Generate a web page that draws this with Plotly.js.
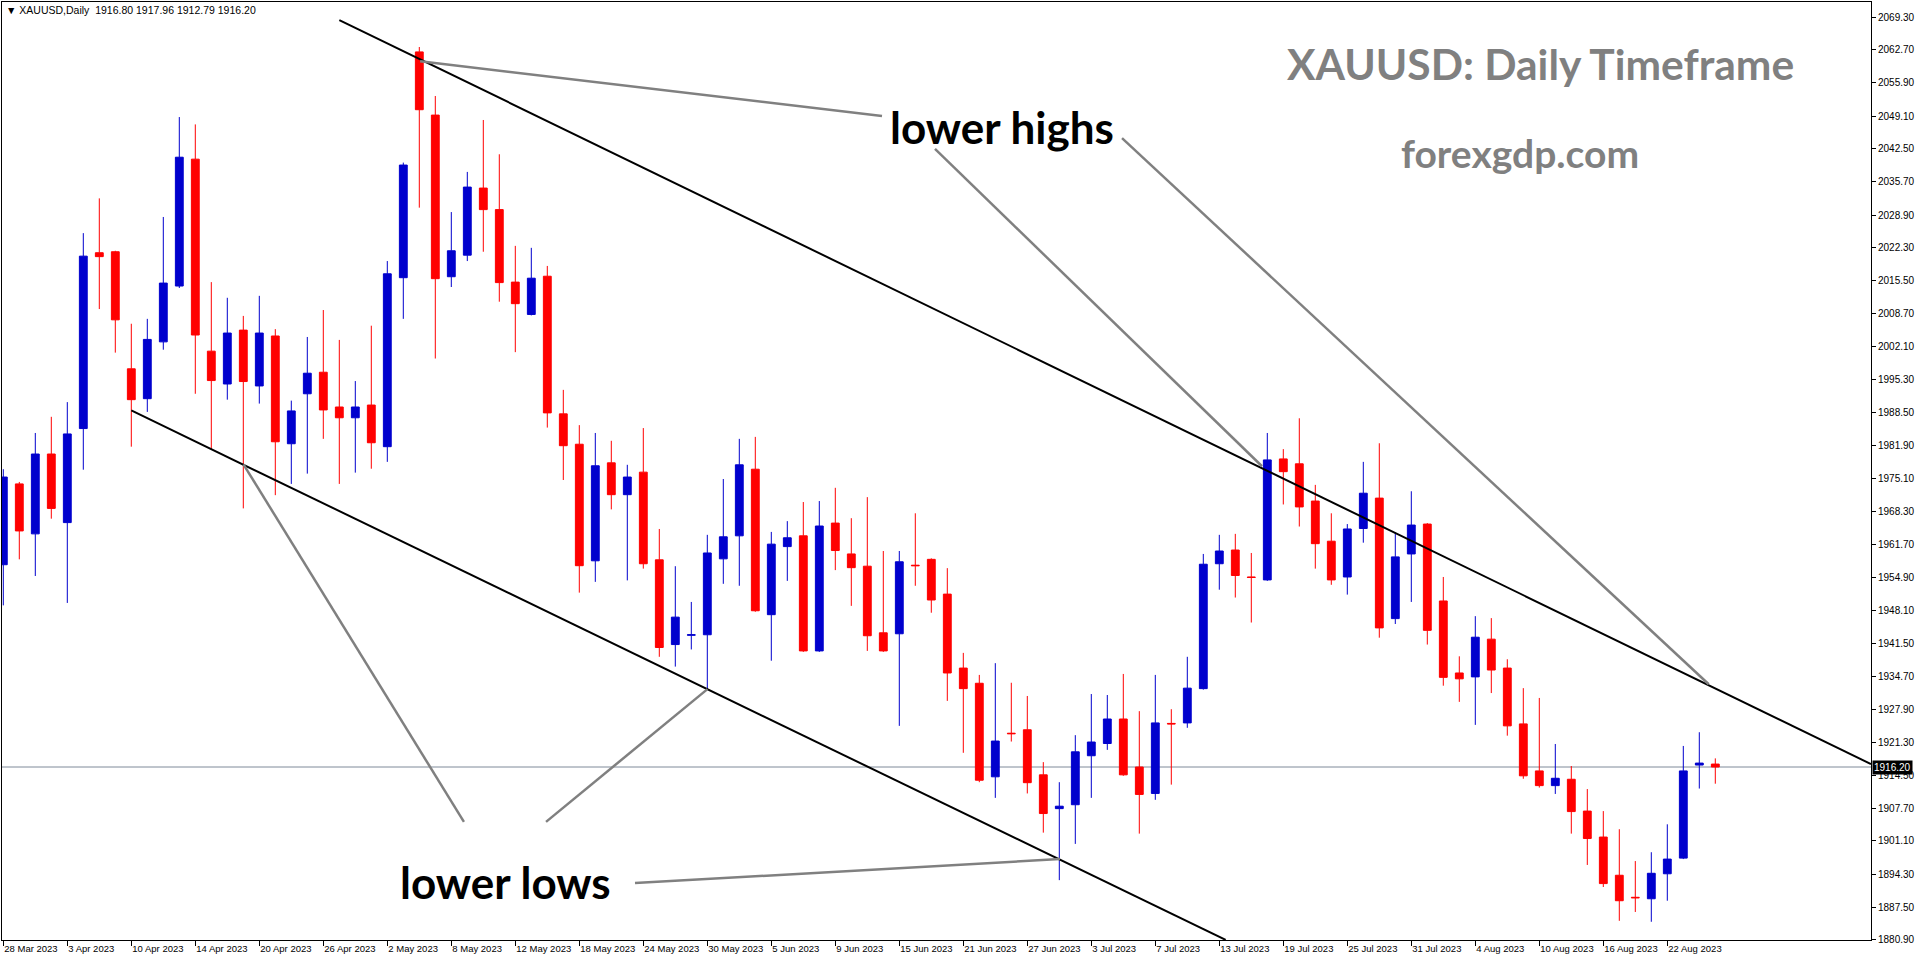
<!DOCTYPE html>
<html>
<head>
<meta charset="utf-8">
<script src="https://cdn.plot.ly/plotly-3.0.1.min.js"></script>
<style>
  html, body { margin: 0; padding: 0; background: #ffffff; }
  #chart { width: 1916px; height: 964px; }
</style>
</head>
<body>
<div id="chart"></div>
<script>
// ---------------- DATA ----------------
const dates = [
  "28 Mar 2023","29 Mar 2023","30 Mar 2023","31 Mar 2023",
  "3 Apr 2023","4 Apr 2023","5 Apr 2023","6 Apr 2023",
  "10 Apr 2023","11 Apr 2023","12 Apr 2023","13 Apr 2023",
  "14 Apr 2023","17 Apr 2023","18 Apr 2023","19 Apr 2023",
  "20 Apr 2023","21 Apr 2023","24 Apr 2023","25 Apr 2023",
  "26 Apr 2023","27 Apr 2023","28 Apr 2023","1 May 2023",
  "2 May 2023","3 May 2023","4 May 2023","5 May 2023",
  "8 May 2023","9 May 2023","10 May 2023","11 May 2023",
  "12 May 2023","15 May 2023","16 May 2023","17 May 2023",
  "18 May 2023","19 May 2023","22 May 2023","23 May 2023",
  "24 May 2023","25 May 2023","26 May 2023","29 May 2023",
  "30 May 2023","31 May 2023","1 Jun 2023","2 Jun 2023",
  "5 Jun 2023","6 Jun 2023","7 Jun 2023","8 Jun 2023",
  "9 Jun 2023","12 Jun 2023","13 Jun 2023","14 Jun 2023",
  "15 Jun 2023","16 Jun 2023","19 Jun 2023","20 Jun 2023",
  "21 Jun 2023","22 Jun 2023","23 Jun 2023","26 Jun 2023",
  "27 Jun 2023","28 Jun 2023","29 Jun 2023","30 Jun 2023",
  "3 Jul 2023","4 Jul 2023","5 Jul 2023","6 Jul 2023",
  "7 Jul 2023","10 Jul 2023","11 Jul 2023","12 Jul 2023",
  "13 Jul 2023","14 Jul 2023","17 Jul 2023","18 Jul 2023",
  "19 Jul 2023","20 Jul 2023","21 Jul 2023","24 Jul 2023",
  "25 Jul 2023","26 Jul 2023","27 Jul 2023","28 Jul 2023",
  "31 Jul 2023","1 Aug 2023","2 Aug 2023","3 Aug 2023",
  "4 Aug 2023","7 Aug 2023","8 Aug 2023","9 Aug 2023",
  "10 Aug 2023","11 Aug 2023","14 Aug 2023","15 Aug 2023",
  "16 Aug 2023","17 Aug 2023","18 Aug 2023","21 Aug 2023",
  "22 Aug 2023","23 Aug 2023","24 Aug 2023","25 Aug 2023"
];

const openP = [
  1957.5,1974.0,1963.8,1980.1,1966.1,1985.3,2021.2,2021.4,1997.5,1991.4,
  2003.0,2014.4,2040.3,2001.1,1994.4,2005.4,1994.0,2004.2,1982.2,1992.4,
  1996.8,1989.7,1987.5,1990.1,1981.6,2016.1,2062.2,2049.3,2016.3,2020.7,
  2034.4,2030.0,2015.2,2008.6,2016.4,1988.3,1982.1,1958.3,1978.3,1971.8,
  1976.4,1958.5,1941.2,1943.1,1943.2,1958.7,1963.4,1977.0,1947.3,1961.2,
  1963.4,1939.9,1966.0,1959.7,1957.2,1943.6,1943.4,1957.4,1958.6,1951.5,
  1936.4,1933.3,1914.2,1923.1,1923.8,1914.6,1907.7,1908.5,1918.5,1921.0,
  1926.0,1916.2,1910.8,1925.1,1925.2,1932.2,1957.7,1960.5,1955.0,1954.4,
  1979.1,1978.1,1970.5,1962.3,1955.0,1964.9,1971.1,1946.5,1959.7,1965.8,
  1950.1,1935.4,1934.6,1942.3,1936.4,1925.0,1915.4,1912.4,1913.7,1907.2,
  1901.9,1894.1,1889.6,1889.3,1894.4,1897.6,1916.6,1916.80
];
const highP = [
  1977.0,1974.4,1984.4,1987.7,1990.7,2025.2,2032.3,2021.6,2006.7,2007.7,
  2028.5,2048.9,2047.4,2015.2,2012.0,2008.3,2012.4,2005.6,1991.0,2004.0,
  2009.5,2003.4,1995.0,2006.3,2019.5,2039.6,2063.2,2053.2,2029.5,2037.7,
  2048.3,2041.3,2022.6,2022.2,2018.5,1993.2,1986.0,1984.4,1982.8,1977.9,
  1985.4,1964.8,1957.2,1949.9,1963.6,1975.0,1983.2,1983.6,1964.2,1966.4,
  1970.3,1970.5,1973.2,1967.0,1971.3,1960.3,1960.3,1968.0,1958.8,1956.8,
  1939.5,1935.0,1937.4,1933.4,1930.7,1917.2,1913.1,1922.7,1931.1,1930.9,
  1935.2,1927.6,1935.0,1928.0,1938.7,1959.7,1963.6,1963.8,1959.9,1984.4,
  1981.1,1987.4,1973.8,1968.0,1965.8,1978.5,1982.3,1964.1,1972.5,1966.0,
  1955.0,1938.8,1947.0,1946.6,1938.2,1932.3,1930.3,1920.9,1916.4,1911.7,
  1907.2,1903.5,1897.0,1898.8,1904.5,1920.5,1923.3,1917.96
];
const lowP = [
  1949.2,1958.6,1955.2,1966.9,1949.7,1976.9,2009.7,2000.8,1981.6,1988.7,
  2001.4,2014.0,1992.4,1981.1,1991.2,1969.0,1990.4,1971.7,1974.0,1976.1,
  1983.2,1974.0,1976.3,1977.1,1978.5,2007.7,2030.4,1999.6,2014.2,2019.5,
  2021.4,2011.2,2000.9,2008.4,1985.5,1974.8,1951.8,1954.0,1968.8,1954.3,
  1956.7,1938.7,1936.7,1940.2,1932.1,1953.6,1953.2,1947.9,1937.9,1954.2,
  1939.7,1939.7,1956.4,1949.1,1939.9,1939.7,1924.6,1953.2,1947.7,1929.7,
  1919.1,1913.1,1909.9,1921.4,1910.8,1902.8,1893.1,1900.5,1909.9,1919.7,
  1914.4,1902.6,1909.5,1912.6,1924.2,1932.0,1952.4,1950.8,1945.7,1954.2,
  1969.8,1965.3,1956.7,1953.4,1951.4,1962.0,1942.6,1945.4,1949.9,1941.2,
  1932.8,1929.5,1924.8,1931.3,1922.6,1913.8,1912.0,1910.7,1902.6,1896.2,
  1891.7,1884.8,1886.6,1884.6,1888.9,1897.4,1911.8,1912.79
];
const closeP = [
  1975.4,1964.4,1980.1,1969.0,1984.2,2020.5,2020.4,2007.5,1991.2,2003.5,
  2015.0,2040.7,2004.4,1995.1,2004.8,1994.9,2004.8,1982.6,1988.9,1996.6,
  1989.1,1987.5,1989.7,1982.4,2016.9,2039.1,2050.4,2015.9,2021.6,2034.6,
  2030.0,2015.1,2010.8,2016.0,1988.5,1981.8,1957.3,1977.7,1971.8,1975.4,
  1957.7,1940.6,1946.8,1943.2,1959.9,1963.2,1977.9,1948.1,1961.7,1963.0,
  1939.9,1965.4,1960.4,1956.9,1943.0,1939.9,1958.1,1957.3,1950.3,1935.4,
  1932.2,1913.5,1921.5,1923.0,1913.0,1906.7,1908.2,1919.3,1921.3,1926.0,
  1914.6,1910.6,1925.2,1925.0,1932.3,1957.6,1960.3,1955.3,1954.9,1978.9,
  1976.5,1969.3,1961.8,1954.4,1964.8,1972.1,1944.6,1959.1,1965.6,1944.1,
  1934.5,1934.2,1942.7,1936.0,1924.6,1914.4,1912.4,1913.9,1907.1,1901.6,
  1892.4,1888.9,1889.5,1894.5,1897.4,1915.4,1917.0,1916.20
];

const tickLabels = [
  "28 Mar 2023","3 Apr 2023","10 Apr 2023","14 Apr 2023","20 Apr 2023",
  "26 Apr 2023","2 May 2023","8 May 2023","12 May 2023","18 May 2023",
  "24 May 2023","30 May 2023","5 Jun 2023","9 Jun 2023","15 Jun 2023",
  "21 Jun 2023","27 Jun 2023","3 Jul 2023","7 Jul 2023","13 Jul 2023",
  "19 Jul 2023","25 Jul 2023","31 Jul 2023","4 Aug 2023","10 Aug 2023",
  "16 Aug 2023","22 Aug 2023"
];

const priceTicks = [
  2069.30,2062.70,2055.90,2049.10,2042.50,2035.70,2028.90,2022.30,2015.50,
  2008.70,2002.10,1995.30,1988.50,1981.90,1975.10,1968.30,1961.70,1954.90,
  1948.10,1941.50,1934.70,1927.90,1921.30,1914.50,1907.70,1901.10,1894.30,
  1887.50,1880.90
];

const symbolHeader = "\u25BC XAUUSD,Daily  1916.80 1917.96 1912.79 1916.20";
const lastPrice = 1916.20;

// trend / pointer lines: [x0 (bar index), y0 (price), x1, y1]
const channelLines = [
  [21.0, 2068.7, 116.73, 1916.8],
  [8.0, 1989.0, 76.4, 1880.9]
];
const pointerLines = [
  [26.05, 2060.3, 54.92, 2049.1],
  [58.23, 2042.4, 78.67, 1977.6],
  [69.92, 2044.6, 106.59, 1933.1],
  [15.01, 1978.0, 28.79, 1905.0],
  [33.92, 1905.0, 44.01, 1932.1],
  [39.48, 1892.5, 66.04, 1897.4]
];

// ---------------- CHART ----------------
const W = 1916, H = 964;
const M = {l: 2, r: 45, t: 2, b: 24};
const plotW = W - M.l - M.r, plotH = H - M.t - M.b;
function px(xpix) { return (xpix - M.l) / plotW; }
function py(ypix) { return 1 - (ypix - M.t) / plotH; }

const trace = {
  type: 'candlestick',
  x: dates,
  open: openP, high: highP, low: lowP, close: closeP,
  increasing: {line: {color: '#0000CD', width: 1}, fillcolor: '#0000CD'},
  decreasing: {line: {color: '#FF0000', width: 1}, fillcolor: '#FF0000'},
  whiskerwidth: 0,
  hoverinfo: 'none',
  showlegend: false
};

const shapes = [];
shapes.push({type: 'line', xref: 'paper', x0: 0, x1: 1, yref: 'y', y0: lastPrice, y1: lastPrice,
  line: {color: '#7f8a99', width: 1}, layer: 'below'});
channelLines.forEach(l => shapes.push({type: 'line', xref: 'x', yref: 'y',
  x0: l[0], y0: l[1], x1: l[2], y1: l[3], line: {color: '#000000', width: 2}}));
pointerLines.forEach(l => shapes.push({type: 'line', xref: 'x', yref: 'y',
  x0: l[0], y0: l[1], x1: l[2], y1: l[3], line: {color: '#808080', width: 2.5}}));

const annotations = [
  {text: symbolHeader, xref: 'paper', yref: 'paper', x: px(4), y: py(10),
   xanchor: 'left', yanchor: 'middle', showarrow: false,
   font: {family: 'Liberation Sans, Arial, sans-serif', size: 10.5, color: '#000000'}},
  {text: 'XAUUSD: Daily Timeframe', xref: 'paper', yref: 'paper', x: px(1540), y: py(63),
   xanchor: 'center', yanchor: 'middle', showarrow: false,
   font: {family: 'Lato, sans-serif', size: 42.5, color: '#808080', weight: 700}},
  {text: 'forexgdp.com', xref: 'paper', yref: 'paper', x: px(1520), y: py(153),
   xanchor: 'center', yanchor: 'middle', showarrow: false,
   font: {family: 'Lato, sans-serif', size: 39, color: '#808080', weight: 700}},
  {text: 'lower highs', xref: 'paper', yref: 'paper', x: px(1002), y: py(127),
   xanchor: 'center', yanchor: 'middle', showarrow: false,
   font: {family: 'Lato, sans-serif', size: 44, color: '#000000', weight: 700}},
  {text: 'lower lows', xref: 'paper', yref: 'paper', x: px(505), y: py(882),
   xanchor: 'center', yanchor: 'middle', showarrow: false,
   font: {family: 'Lato, sans-serif', size: 44, color: '#000000', weight: 700}},
  {text: lastPrice.toFixed(2), xref: 'paper', yref: 'y', x: 1, y: lastPrice,
   xanchor: 'left', yanchor: 'middle', xshift: 1, showarrow: false,
   bgcolor: '#000000', borderpad: 1,
   font: {family: 'Liberation Sans, Arial, sans-serif', size: 10, color: '#ffffff'}}
];

const layout = {
  width: W, height: H,
  margin: M,
  paper_bgcolor: '#ffffff', plot_bgcolor: '#ffffff',
  showlegend: false,
  xaxis: {
    type: 'category',
    range: [-(3.3 - M.l) / 16, (W - M.r - 3.3) / 16],
    rangeslider: {visible: false},
    tickmode: 'array', tickvals: tickLabels, ticktext: tickLabels,
    ticks: 'outside', ticklen: 5, tickcolor: '#000000', tickwidth: 1,
    ticklabelposition: 'outside right',
    tickfont: {family: 'Liberation Sans, Arial, sans-serif', size: 9.5, color: '#000000'},
    showgrid: false, zeroline: false,
    showline: true, linecolor: '#000000', linewidth: 1, mirror: true,
    fixedrange: true
  },
  yaxis: {
    side: 'right',
    range: [1880.88, 2072.39],
    tickmode: 'array', tickvals: priceTicks, ticktext: priceTicks.map(v => v.toFixed(2)),
    ticks: 'outside', ticklen: 4, tickcolor: '#000000', tickwidth: 1,
    tickfont: {family: 'Liberation Sans, Arial, sans-serif', size: 10, color: '#000000'},
    showgrid: false, zeroline: false,
    showline: true, linecolor: '#000000', linewidth: 1, mirror: true,
    fixedrange: true
  },
  shapes: shapes,
  annotations: annotations
};

Plotly.newPlot('chart', [trace], layout, {staticPlot: true, displayModeBar: false});
</script>
</body>
</html>
